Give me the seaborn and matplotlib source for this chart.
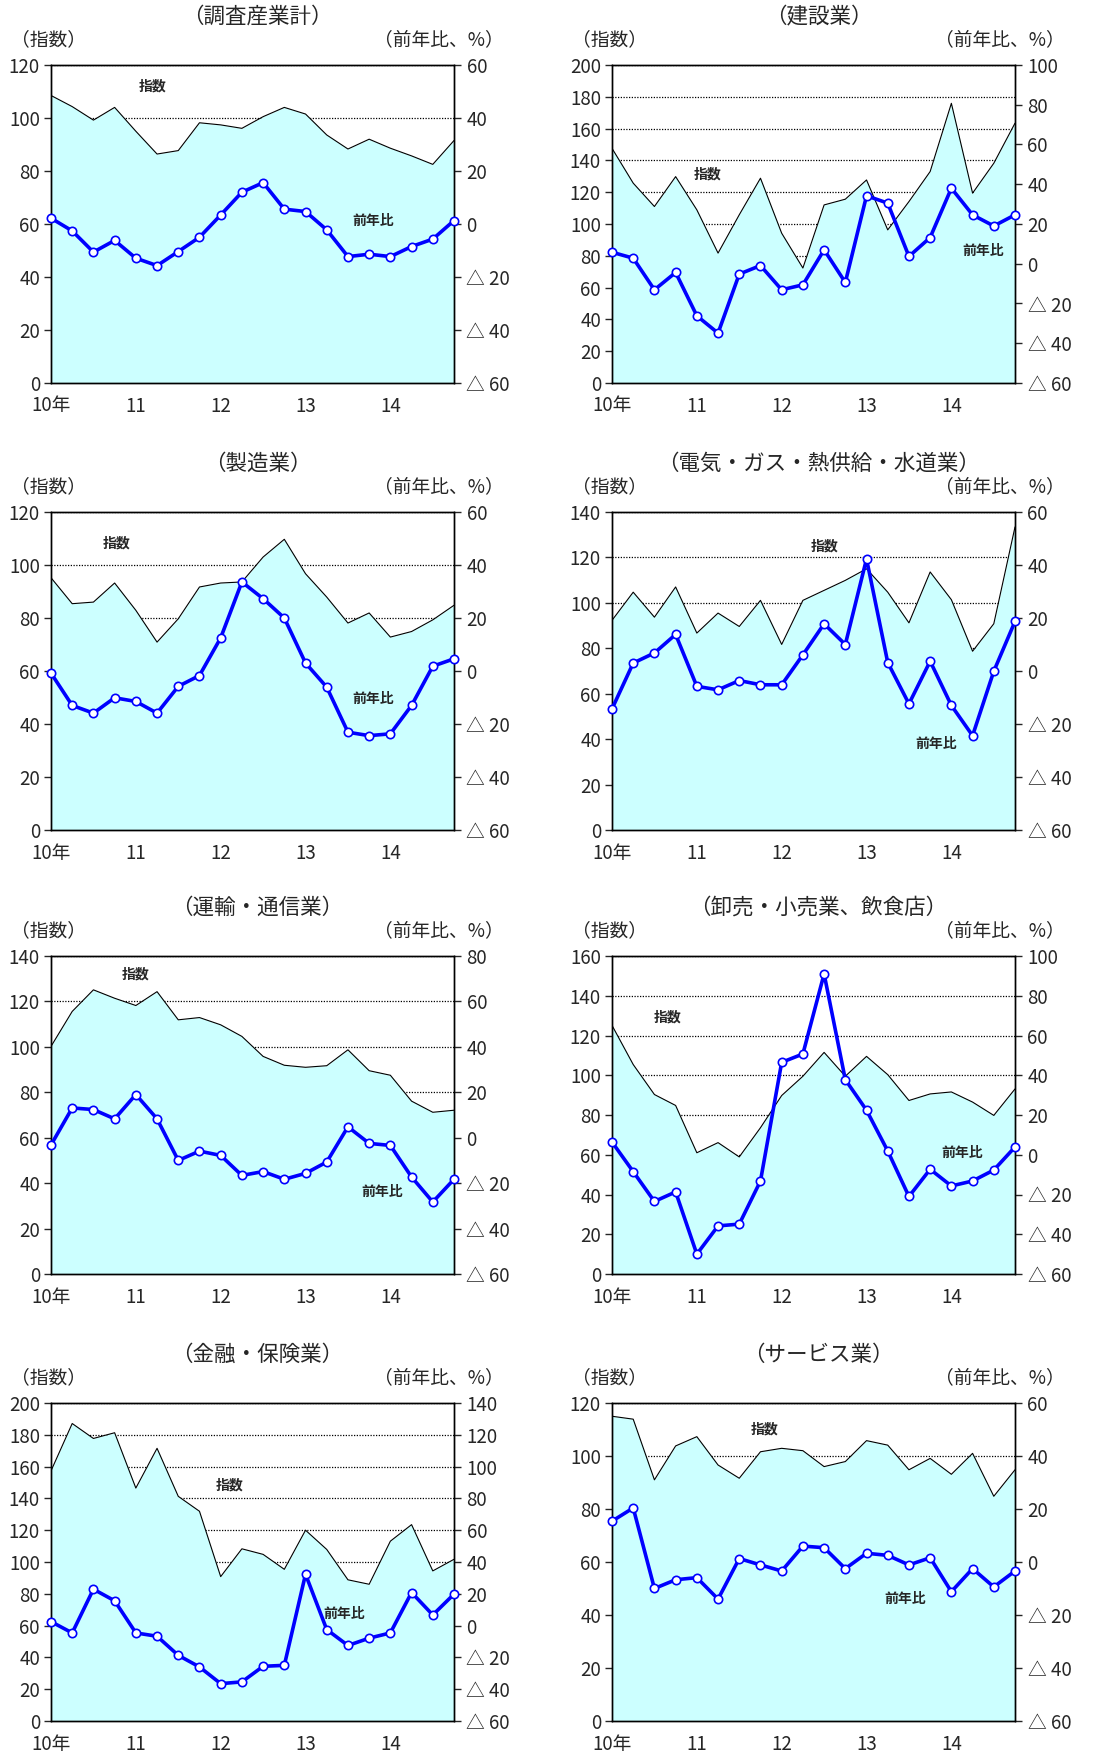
import numpy as np
import pandas as pd
import matplotlib
matplotlib.use("Agg")
import matplotlib.pyplot as plt
import seaborn as sns

# 四半期（2010年1-3月期〜2014年10-12月期）
quarters = [f"{y}Q{q}" for y in range(10, 15) for q in range(1, 5)]
xtick_labels = ["10年", "11", "12", "13", "14"]

titles = ["（調査産業計）", "（建設業）", "（製造業）", "（電気・ガス・熱供給・水道業）",
          "（運輸・通信業）", "（卸売・小売業、飲食店）", "（金融・保険業）", "（サービス業）"]

# 指数（左軸）
idx_total = [108.5, 104.3, 99.2, 104.0, 95.0, 86.4, 87.7, 98.2, 97.4, 96.1,
             100.5, 104.0, 101.5, 93.6, 88.3, 92.0, 88.6, 85.7, 82.5, 91.5]
idx_const = [147.6, 125.7, 111.0, 129.8, 108.9, 81.7, 105.8, 128.8, 94.2, 72.3,
             112.0, 115.6, 127.7, 96.3, 114.1, 133.0, 175.9, 119.4, 138.2, 163.4]
idx_manuf = [95.2, 85.4, 86.0, 93.2, 82.9, 70.9, 79.7, 91.7, 93.2, 93.6,
             103.0, 109.7, 96.7, 87.9, 78.1, 81.9, 72.8, 74.9, 79.3, 84.8]
idx_util = [92.3, 104.7, 93.7, 107.0, 86.7, 95.5, 89.6, 101.1, 81.7, 101.1,
            105.5, 109.9, 115.0, 104.7, 91.2, 113.6, 101.4, 78.7, 90.8, 133.4]
idx_trans = [100.2, 115.6, 125.1, 121.4, 118.2, 124.3, 111.9, 112.9, 109.7, 104.6,
             95.8, 91.9, 91.0, 91.7, 98.7, 89.5, 87.5, 76.1, 71.2, 72.1]
idx_retail = [125.1, 105.4, 90.3, 84.8, 61.0, 66.1, 58.9, 73.6, 89.8, 99.5,
              111.5, 99.5, 109.5, 100.3, 87.3, 90.6, 91.6, 86.5, 79.8, 93.1]
idx_fin = [157.3, 187.1, 177.7, 181.3, 146.5, 171.5, 141.3, 131.9, 90.8, 108.3,
           104.8, 95.4, 120.0, 107.9, 88.8, 86.0, 113.1, 123.5, 94.4, 101.7]
idx_serv = [115.0, 113.9, 91.0, 103.8, 107.3, 96.6, 91.6, 101.6, 102.9, 102.0,
            96.0, 97.9, 105.8, 104.1, 94.8, 99.1, 93.1, 101.0, 84.8, 94.8]

# 前年比（右軸, %）
yoy_total = [2.2, -2.6, -10.6, -6.2, -12.9, -15.7, -10.4, -5.0, 3.4, 12.0,
             15.6, 5.6, 4.7, -2.2, -12.3, -11.4, -12.3, -8.5, -5.7, 1.3]
yoy_const = [5.8, 2.8, -13.1, -4.4, -26.2, -34.9, -5.2, -0.9, -13.1, -10.6,
             7.0, -9.4, 34.2, 30.5, 3.7, 13.2, 38.0, 24.6, 19.0, 24.6]
yoy_manuf = [-0.8, -13.0, -15.9, -10.1, -11.5, -15.9, -5.8, -1.7, 12.5, 33.6,
             27.3, 20.0, 3.0, -6.1, -23.1, -24.4, -23.7, -13.0, 1.8, 4.6]
yoy_util = [-14.3, 3.0, 6.8, 13.8, -5.8, -7.1, -3.6, -5.2, -5.2, 6.1,
            17.8, 10.0, 42.3, 3.2, -12.4, 3.7, -13.0, -24.4, -0.1, 18.7]
yoy_trans = [-3.2, 13.1, 12.4, 8.3, 19.0, 8.3, -10.0, -5.9, -7.8, -16.6,
             -14.9, -18.3, -15.7, -10.7, 4.8, -2.5, -3.4, -17.3, -28.3, -18.3]
yoy_retail = [6.4, -8.5, -23.5, -18.7, -50.0, -35.8, -34.9, -13.2, 46.5, 50.7,
              91.0, 37.8, 22.4, 1.9, -21.0, -7.3, -15.7, -13.2, -7.7, 3.9]
yoy_fin = [2.5, -4.6, 22.9, 15.6, -4.6, -6.7, -18.7, -26.0, -36.5, -35.4,
           -25.6, -25.0, 32.3, -2.5, -12.5, -7.9, -4.6, 20.8, 6.7, 19.8]
yoy_serv = [15.4, 20.4, -10.0, -6.7, -5.9, -14.0, 1.3, -1.1, -3.4, 6.0,
            5.4, -2.5, 3.3, 2.5, -1.1, 1.6, -11.2, -2.5, -9.4, -3.4]

index_series = [idx_total, idx_const, idx_manuf, idx_util, idx_trans, idx_retail, idx_fin, idx_serv]
yoy_series = [yoy_total, yoy_const, yoy_manuf, yoy_util, yoy_trans, yoy_retail, yoy_fin, yoy_serv]

# 軸の上限（左: 指数, 右: 前年比）
left_max = [120, 200, 120, 140, 140, 160, 200, 120]
right_max = [60, 100, 60, 60, 80, 100, 140, 60]

# 注記ラベルの位置 (x, 左軸の値)
label_idx_pos = [(4.8, 112), (4.5, 131), (3.1, 108), (10.0, 125), (4.0, 132), (2.6, 129), (8.4, 148), (7.2, 110)]
label_yoy_pos = [(15.2, 61), (17.5, 83), (15.2, 49.5), (15.3, 38), (15.6, 36), (16.5, 61), (13.8, 67), (13.8, 46)]

sns.set_style("white")
plt.rcParams["font.family"] = ["Noto Sans CJK JP", "DejaVu Sans"]

W, H = 1120, 1760
fig = plt.figure(figsize=(W / 100, H / 100), dpi=100)

col_left = [51, 612]
row_top = [65, 512, 956, 1403]
ax_w, ax_h = 403, 318

x = np.arange(len(quarters))
fill_color = "#CCFFFF"
blue = "#0000FF"


def right_fmt(v):
    v = int(round(v))
    return f"△ {abs(v)}" if v < 0 else str(v)


for i in range(8):
    r, c = divmod(i, 2)
    left, top = col_left[c], row_top[r]
    ax = fig.add_axes([left / W, 1 - (top + ax_h) / H, ax_w / W, ax_h / H])
    ax2 = ax.twinx()

    df = pd.DataFrame({"x": x, "index": index_series[i], "yoy": yoy_series[i]})

    ax.fill_between(df["x"], 0, df["index"], color=fill_color, zorder=1, linewidth=0)
    sns.lineplot(data=df, x="x", y="index", ax=ax, color="black", linewidth=0.8, zorder=2)
    sns.lineplot(data=df, x="x", y="yoy", ax=ax2, color=blue, linewidth=2.6,
                 marker="o", markersize=6, markerfacecolor="white",
                 markeredgecolor=blue, markeredgewidth=1.2, clip_on=False, zorder=3)

    ax.set_xlim(0, 19)
    ax.set_ylim(0, left_max[i])
    ax2.set_ylim(-60, right_max[i])
    ax.set_yticks(range(0, left_max[i] + 1, 20))
    ax2.set_yticks(range(-60, right_max[i] + 1, 20))
    ax2.set_yticklabels([right_fmt(v) for v in range(-60, right_max[i] + 1, 20)])
    ax.set_xticks([0, 4, 8, 12, 16])
    ax.set_xticklabels(xtick_labels)

    ax.set_axisbelow(True)
    ax.yaxis.grid(True, linestyle=(0, (1, 1.2)), color="black", linewidth=0.9)
    ax.xaxis.grid(False)
    ax.set_xlabel("")
    ax.set_ylabel("")
    ax2.set_ylabel("")

    for a in (ax, ax2):
        for s in a.spines.values():
            s.set_color("black")
            s.set_linewidth(1.0)
    ax.tick_params(axis="y", direction="out", length=5, width=1, labelsize=13.5, pad=3, left=True)
    ax2.tick_params(axis="y", direction="out", length=5, width=1, labelsize=13.5, pad=4, right=True)
    ax.tick_params(axis="x", length=0, labelsize=13.5, pad=9)

    ax.text(*label_idx_pos[i], "指数", fontsize=10, fontweight="bold", ha="center", va="center", zorder=4)
    ax.text(*label_yoy_pos[i], "前年比", fontsize=10, fontweight="bold", ha="center", va="center", zorder=4)

    cx = left + ax_w / 2 + 5
    fig.text(cx / W, 1 - (top - 48) / H, titles[i], fontsize=15.5, ha="center", va="center")
    fig.text((left - 40) / W, 1 - (top - 25) / H, "（指数）", fontsize=13.5, ha="left", va="center")
    fig.text((left + ax_w + 50) / W, 1 - (top - 25) / H, "（前年比、%）", fontsize=13.5, ha="right", va="center")

fig.savefig("out.png", dpi=100)
